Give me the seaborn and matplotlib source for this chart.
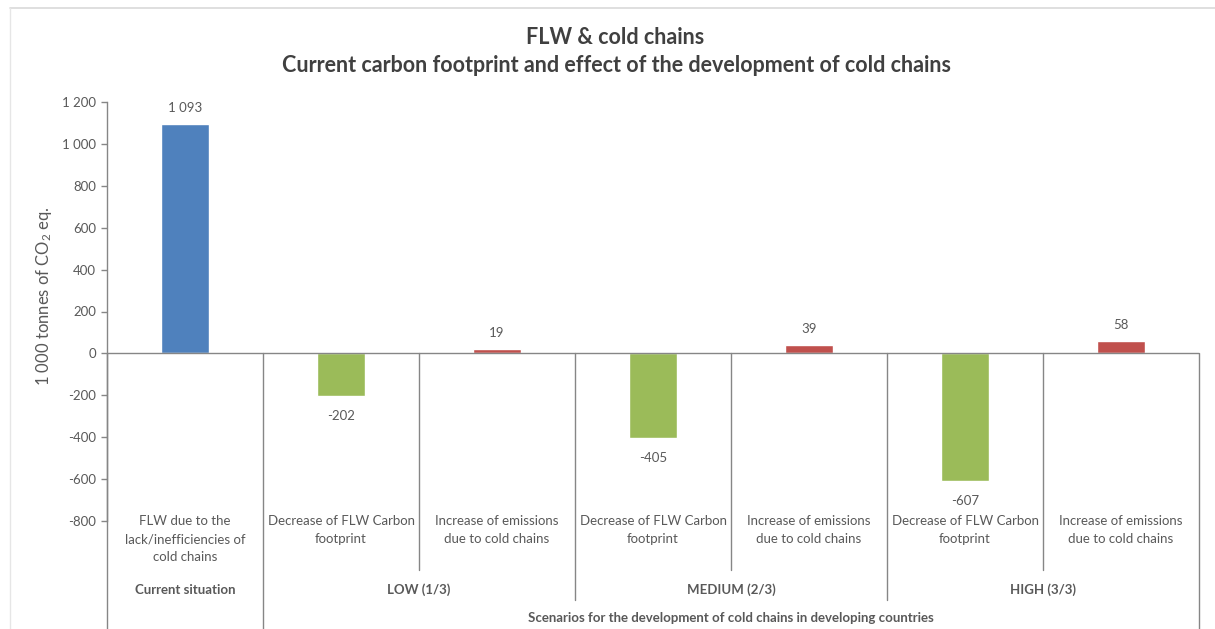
import matplotlib
matplotlib.use("Agg")
import matplotlib.pyplot as plt
from matplotlib.lines import Line2D
import seaborn as sns
import pandas as pd

# ---- data ----
bar_ids = ["cur", "low_dec", "low_inc", "med_dec", "med_inc", "high_dec", "high_inc"]
category_labels = [
    "FLW due to the\nlack/inefficiencies of\ncold chains",
    "Decrease of FLW Carbon\nfootprint",
    "Increase of emissions\ndue to cold chains",
    "Decrease of FLW Carbon\nfootprint",
    "Increase of emissions\ndue to cold chains",
    "Decrease of FLW Carbon\nfootprint",
    "Increase of emissions\ndue to cold chains",
]
series_kind = ["Current", "Decrease", "Increase", "Decrease", "Increase", "Decrease", "Increase"]
values = [1093, -202, 19, -405, 39, -607, 58]
group_labels = ["Current situation", "LOW (1/3)", "MEDIUM (2/3)", "HIGH (3/3)"]
group_spans = [(0, 0), (1, 2), (3, 4), (5, 6)]
outer_label = "Scenarios for the development of cold chains in developing countries"
y_ticks = [-800, -600, -400, -200, 0, 200, 400, 600, 800, 1000, 1200]
title_lines = ["FLW & cold chains",
               "Current carbon footprint and effect of the development of cold chains"]
y_label = "1 000 tonnes of CO$_2$ eq."
palette = {"Current": "#4F81BD", "Decrease": "#9BBB59", "Increase": "#C0504D"}

df = pd.DataFrame({"id": bar_ids, "kind": series_kind, "value": values})

sns.set_style("white")
plt.rcParams["font.family"] = ["Lato", "DejaVu Sans"]
plt.rcParams["mathtext.default"] = "regular"

W, H = 1215, 629
fig = plt.figure(figsize=(W / 100, H / 100), dpi=100)
fig.patch.set_facecolor("white")

ax_left, ax_right, ax_top, ax_bot = 107, 1199, 102, 521
ax = fig.add_axes([ax_left / W, 1 - ax_bot / H, (ax_right - ax_left) / W, (ax_bot - ax_top) / H])

sns.barplot(data=df, x="id", y="value", hue="kind", palette=palette, dodge=False,
            width=0.31, legend=False, ax=ax, order=bar_ids, saturation=1)

TXT = "#595959"
LINE = "#868686"

ax.set_xlim(-0.5, 6.5)
ax.set_ylim(-800, 1200)
ax.set_xticks([])
ax.set_xlabel("")
ax.set_ylabel("")
ax.set_yticks(y_ticks)
ax.set_yticklabels([f"{t:,}".replace(",", " ") for t in y_ticks], color=TXT, fontsize=9.5)
ax.tick_params(axis="y", direction="out", length=4, width=1, color=LINE, pad=4, left=True)
for s in ["top", "right", "bottom"]:
    ax.spines[s].set_visible(False)
ax.spines["left"].set_color(LINE)
ax.spines["left"].set_linewidth(1)
ax.axhline(0, color=LINE, lw=1, zorder=3)

# data labels
def fmt(v):
    return f"{v:,}".replace(",", " ")

for i, v in enumerate(values):
    ax.annotate(fmt(v), (i, v), xytext=(0, 12 if v > 0 else -14.5), textcoords="offset points",
                ha="center", va="center", color=TXT, fontsize=9.5)

# category table lines (x in data, y in axes coords)
tr = ax.get_xaxis_transform()
def ypx(p):
    return (ax_bot - p) / (ax_bot - ax_top)

y0 = ypx(353)
y_inner = ypx(570)
y_group = ypx(600)
y_full = ypx(629)
boundaries = [-0.5, 0.5, 1.5, 2.5, 3.5, 4.5, 5.5, 6.5]
for b in boundaries:
    if b in (-0.5, 0.5, 6.5):
        yb = y_full
    elif b in (2.5, 4.5):
        yb = y_group
    else:
        yb = y_inner
    ax.add_line(Line2D([b, b], [y0, yb], transform=tr, color=LINE, lw=1, clip_on=False))

# category labels
for i, lab in enumerate(category_labels):
    ax.text(i, ypx(515), lab, transform=tr, ha="center", va="top", color=TXT,
            fontsize=9.5, linespacing=1.62, clip_on=False)
for lab, (a, b) in zip(group_labels, group_spans):
    ax.text((a + b) / 2, ypx(590), lab, transform=tr, ha="center", va="center", color=TXT,
            fontsize=9.5, fontweight="bold", clip_on=False)
ax.text(3.5, ypx(618), outer_label, transform=tr, ha="center", va="center", color=TXT,
        fontsize=9.5, fontweight="bold", clip_on=False)

# title and y label
fig.text(615 / W, 1 - 37 / H, title_lines[0], ha="center", va="center",
         fontsize=15.5, fontweight="bold", color="#404040")
fig.text(616 / W, 1 - 66 / H, title_lines[1], ha="center", va="center",
         fontsize=15.5, fontweight="bold", color="#404040")
fig.text(44 / W, 1 - 296 / H, y_label, rotation=90, ha="center", va="center",
         fontsize=12, color=TXT)

# chart border
fig.add_artist(Line2D([10 / W, 1.0], [1 - 8 / H, 1 - 8 / H], transform=fig.transFigure,
                      color="#D9D9D9", lw=1.2))
fig.add_artist(Line2D([10 / W, 10 / W], [1 - 8 / H, 0], transform=fig.transFigure,
                      color="#E6E6E6", lw=1))

fig.savefig("out.png", dpi=100, facecolor="white")
